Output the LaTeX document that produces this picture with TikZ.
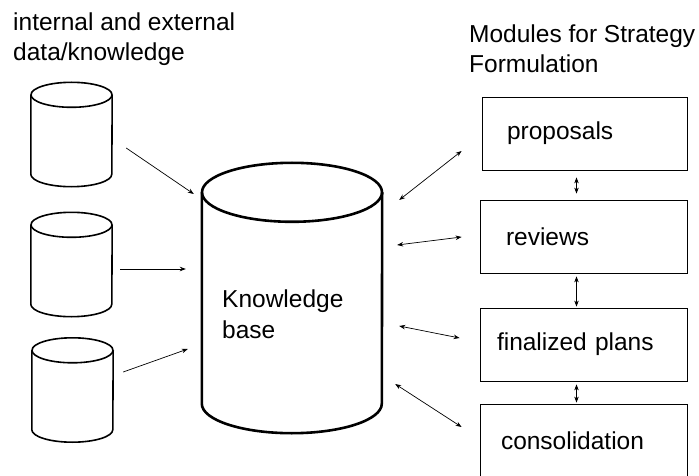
\documentclass[tikz,border=0pt]{standalone}
\usepackage{fontspec}
\setmainfont{Liberation Sans}
\usetikzlibrary{arrows.meta}

% cylinder outline round a named node: #1 node, #2 x radius, #3 y radius, #4 line width
\newcommand{\drawdb}[4]{%
	\draw[line width=#4] ([shift={(0,#3)}]#1.north west) -- ([shift={(0,-#3)}]#1.south west)
		arc[start angle=180, end angle=0, x radius=#2, y radius=#3] -- ([shift={(0,#3)}]#1.north east);
	\draw[line width=#4] ([shift={(0,#3)}]#1.north) ellipse [x radius=#2, y radius=#3];
}

\tikzset{
	>={Stealth[length=6pt, width=4.5pt]},
	dbbox/.style={rectangle, inner sep=0pt},
	module/.style={draw, line width=0.8pt, align=left, minimum height=73pt},
	link/.style={line width=0.7pt},
	heading/.style={align=left, inner sep=0pt}
}

\begin{document}
\begin{tikzpicture}[x=1pt, y=-1pt, font=\fontsize{24.5}{30}\selectfont]
	\clip (0,0) rectangle (699,476);

	\node (in-title) at (13,13) [heading, anchor=north west] {internal and external\\data/knowledge};
	\node (mod-title) at (469,25) [heading, anchor=north west] {Modules for Strategy\\Formulation};

	\node (c1) at (71.5,134.5) [dbbox, minimum width=81pt, minimum height=104pt] {};
	\node (c2) at (71.5,264.5) [dbbox, minimum width=81pt, minimum height=104pt] {};
	\node (c3) at (72.5,390) [dbbox, minimum width=81pt, minimum height=104pt] {};
	\drawdb{c1}{40.5}{12.5}{1.6pt}
	\drawdb{c2}{40.5}{12.5}{1.6pt}
	\drawdb{c3}{40.5}{12.5}{1.6pt}

	\node (kb) at (292,298) [dbbox, minimum width=180pt, minimum height=270pt] {};
	\drawdb{kb}{90}{29.5}{2.6pt}
	\node (kb-text) at (222,289.5) [heading, anchor=north west, font=\fontsize{24.5}{31}\selectfont] {Knowledge\\base};

	\node (prop) at (584.5,133.5) [module, minimum width=205pt, inner xsep=25pt, text width=155pt] {proposals};
	\node (rev) at (583.5,236.5) [module, minimum width=207pt, inner xsep=26pt, text width=155pt] {reviews};
	\node (fin) at (583.5,344.5) [module, minimum width=207pt, inner xsep=17pt, text width=173pt] {finalized plans};
	\node (cons) at (583.5,440.5) [module, minimum width=207pt, inner xsep=21pt, text width=165pt] {consolidation};

	\draw[link, ->] ([shift={(14,13.5)}]c1.east) to ([shift={(-8,-104)}]kb.west);
	\draw[link, ->] ([shift={(8,4.5)}]c2.east) to ([shift={(-16,-29)}]kb.west);
	\draw[link, ->] ([shift={(10,-18)}]c3.east) to ([shift={(-14,51)}]kb.west);

	\draw[link, <->] ([shift={(17,-98)}]kb.east) to ([shift={(-20,17.5)}]prop.west);
	\draw[link, <->] ([shift={(15,-53)}]kb.east) to ([shift={(-18,0.5)}]rev.west);
	\draw[link, <->] ([shift={(17,28)}]kb.east) to ([shift={(-20,-6.5)}]fin.west);
	\draw[link, <->] ([shift={(13,86)}]kb.east) to ([shift={(-18,-13.5)}]cons.west);

	\draw[link, <->, shorten <=7pt, shorten >=6pt] ([shift={(-8,0)}]prop.south) to ([shift={(-7,0)}]rev.north);
	\draw[link, <->, shorten <=3pt, shorten >=1pt] ([shift={(-7,0)}]rev.south) to ([shift={(-7,0)}]fin.north);
	\draw[link, <->, shorten <=3pt, shorten >=1pt] ([shift={(-7,0)}]fin.south) to ([shift={(-7,0)}]cons.north);
\end{tikzpicture}
\end{document}
